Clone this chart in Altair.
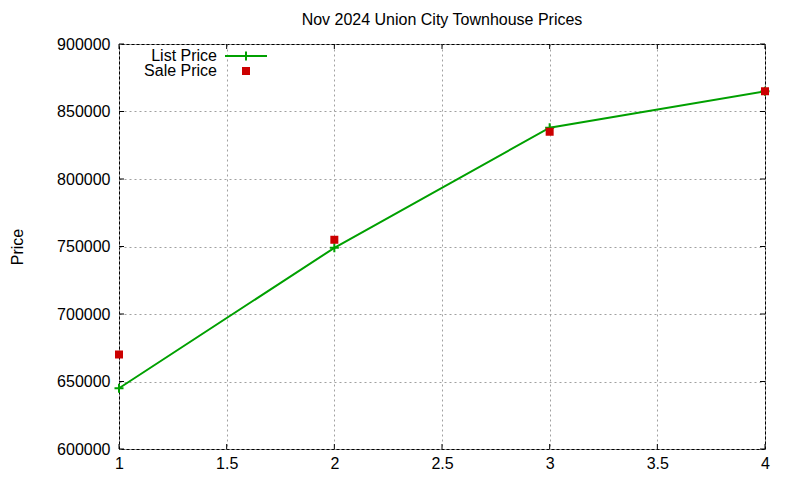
import altair as alt
import pandas as pd

# data
listing = [1, 2, 3, 4]
list_price = [645000, 749000, 838000, 865000]
sale_price = [670000, 755000, 835000, 865000]
x_ticks = [1, 1.5, 2, 2.5, 3, 3.5, 4]
y_ticks = [600000, 650000, 700000, 750000, 800000, 850000, 900000]

W, H = 646, 405
FONT = "Liberation Sans"
FS = 16
GREEN = "#00a000"
RED = "#cc0000"
PLUS = "M-1,0L1,0M0,-1L0,1"

df_list = pd.DataFrame({"x": listing, "y": list_price})
df_sale = pd.DataFrame({"x": listing, "y": sale_price})
df_xt = pd.DataFrame({"x": x_ticks})
df_yt = pd.DataFrame({"y": y_ticks})
df_one = pd.DataFrame({"k": [0]})

xs = alt.Scale(domain=[1, 4], nice=False, zero=False)
ys = alt.Scale(domain=[600000, 900000], nice=False, zero=False)
xaxis = alt.Axis(values=x_ticks, format="~g", title=None, labelPadding=6,
                 labelFlush=False, labelOverlap=False,
                 domain=False, ticks=False, grid=True, gridDash=[2, 3],
                 gridColor="#a0a0a0", gridWidth=1, labelFont=FONT,
                 labelFontSize=FS, labelColor="black")
yaxis = alt.Axis(values=y_ticks, format="d", title="Price", labelPadding=9,
                 labelFlush=False, labelOverlap=False,
                 titleX=-102, titleY=H / 2, titleAngle=-90, titleAlign="center",
                 titleBaseline="middle", titleFont=FONT, titleFontSize=FS,
                 titleFontWeight="normal", titleColor="black",
                 domain=False, ticks=False, grid=True, gridDash=[2, 3],
                 gridColor="#a0a0a0", gridWidth=1, labelFont=FONT,
                 labelFontSize=FS, labelColor="black")


def X():
    return alt.X("x:Q", scale=xs, axis=xaxis)


def Y():
    return alt.Y("y:Q", scale=ys, axis=yaxis)


line = alt.Chart(df_list).mark_line(color=GREEN, strokeWidth=2).encode(x=X(), y=Y())
pluses = alt.Chart(df_list).mark_point(shape=PLUS, size=81, filled=False, color=GREEN,
                                        strokeWidth=2, opacity=1).encode(x=X(), y=Y())
squares = alt.Chart(df_sale).mark_point(shape="square", size=64, filled=True, color=RED,
                                         opacity=1).encode(x=X(), y=Y())

xt_bot = alt.Chart(df_xt).mark_rule(color="black", strokeWidth=1).encode(
    x=X(), y=alt.value(H), y2=alt.value(H - 5))
xt_top = alt.Chart(df_xt).mark_rule(color="black", strokeWidth=1).encode(
    x=X(), y=alt.value(0), y2=alt.value(5))
yt_left = alt.Chart(df_yt).mark_rule(color="black", strokeWidth=1).encode(
    y=Y(), x=alt.value(0), x2=alt.value(5))
yt_right = alt.Chart(df_yt).mark_rule(color="black", strokeWidth=1).encode(
    y=Y(), x=alt.value(W - 5), x2=alt.value(W))

# legend
leg_t1 = alt.Chart(df_one).mark_text(text="List Price", align="right", baseline="middle",
                                     font=FONT, fontSize=FS, color="black").encode(
    x=alt.value(98), y=alt.value(12))
leg_t2 = alt.Chart(df_one).mark_text(text="Sale Price", align="right", baseline="middle",
                                     font=FONT, fontSize=FS, color="black").encode(
    x=alt.value(98), y=alt.value(27))
leg_line = alt.Chart(df_one).mark_rule(color=GREEN, strokeWidth=2).encode(
    x=alt.value(106), x2=alt.value(148), y=alt.value(12))
leg_plus = alt.Chart(df_one).mark_point(shape=PLUS, size=81, filled=False, color=GREEN,
                                        strokeWidth=2, opacity=1).encode(
    x=alt.value(127), y=alt.value(12))
leg_sq = alt.Chart(df_one).mark_point(shape="square", size=64, filled=True, color=RED,
                                      opacity=1).encode(x=alt.value(127), y=alt.value(27))

chart = alt.layer(
    line, pluses, squares, xt_bot, xt_top, yt_left, yt_right,
    leg_t1, leg_t2, leg_line, leg_plus, leg_sq
).properties(
    width=W, height=H,
    background="white",
    title=alt.TitleParams("Nov 2024 Union City Townhouse Prices", font=FONT, fontSize=FS,
                          fontWeight="normal", color="black", anchor="middle", offset=8),
    autosize=alt.AutoSizeParams(type="none"),
    padding={"left": 111, "top": 36, "right": 20, "bottom": 23},
).configure_view(
    stroke="black", strokeWidth=1
)

chart.save("out.html", embed_options={"renderer": "svg", "actions": False})
